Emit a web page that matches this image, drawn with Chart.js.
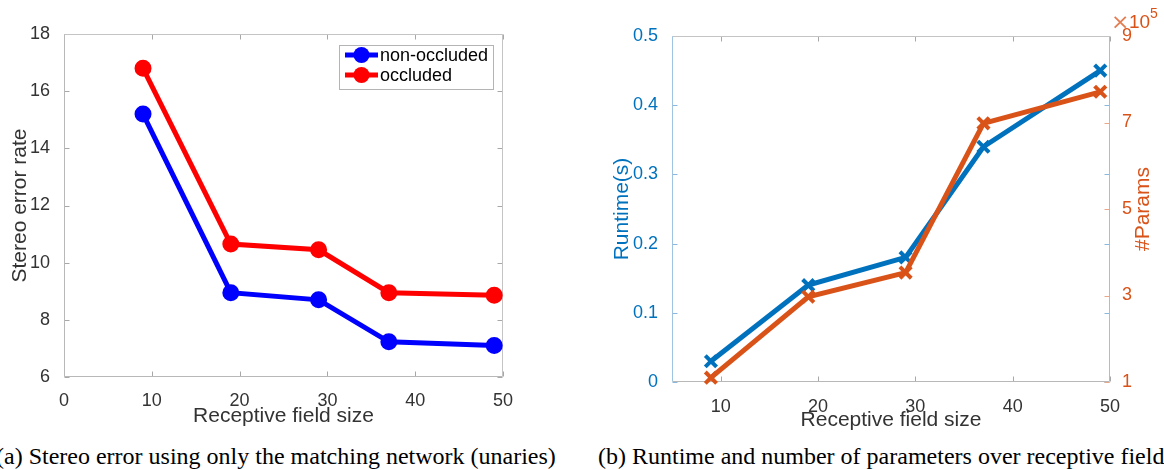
<!DOCTYPE html>
<html>
<head>
<meta charset="utf-8">
<script src="https://cdn.jsdelivr.net/npm/chart.js@4.4.0/dist/chart.umd.min.js"></script>
<style>
body{margin:0;background:#fff;}
#wrap{position:relative;width:1164px;height:470px;overflow:hidden;background:#fff;}
.c{position:absolute;top:0;height:440px;}
.cap{position:absolute;top:444px;font:24px "Liberation Serif","Times New Roman",serif;line-height:24px;white-space:nowrap;color:#000;}
</style>
</head>
<body>
<div id="wrap">
  <div class="c" style="left:0;width:540px"><canvas id="left"></canvas></div>
  <div class="c" style="left:580px;width:584px"><canvas id="right"></canvas></div>
  <div class="cap" style="left:-4px">(a) Stereo error using only the matching network (unaries)</div>
  <div class="cap" style="left:598px">(b) Runtime and number of parameters over receptive field</div>
</div>
<script>
// receptive field sizes (x of both panels)
const fieldSizes = [9, 19, 29, 37, 49];
// (a) stereo error rate
const nonOccluded = [15.2, 8.95, 8.7, 7.23, 7.1];
const occluded = [16.8, 10.65, 10.45, 8.95, 8.86];
// (b) runtime in seconds, parameter count in units of 10^5
const runtime = [0.03, 0.14, 0.18, 0.34, 0.45];
const params = [1.1, 2.97, 3.53, 6.98, 7.71];

// tick labels
const xTicksA = [0, 10, 20, 30, 40, 50];
const yTicksA = [6, 8, 10, 12, 14, 16, 18];
const xTicksB = [10, 20, 30, 40, 50];
const yTicksB = [0, 0.1, 0.2, 0.3, 0.4, 0.5];
const y2TicksB = [1, 3, 5, 7, 9];

const FONT = '"Liberation Sans", Arial, Helvetica, sans-serif';
const TXT = '#333';
const BLUE = '#0072BD', ORANGE = '#D95319';

const pts = ys => fieldSizes.map((x, i) => ({x, y: ys[i]}));
const fixTicks = vals => scale => { scale.ticks = vals.map(v => ({value: v})); };
const tickFont = {family: FONT, size: 18};
const titleFont = {family: FONT, size: 21};

function seg(ctx, x1, y1, x2, y2){
  ctx.beginPath(); ctx.moveTo(x1, y1); ctx.lineTo(x2, y2); ctx.stroke();
}

// matlab style box with inward ticks
const frame = {
  id: 'frame',
  beforeDatasetsDraw(chart, args, o){
    const {ctx, chartArea: a} = chart;
    const L = Math.round(a.left) + .5, R = Math.round(a.right) - .5;
    const T = Math.round(a.top) + .5, B = Math.round(a.bottom) - .5;
    ctx.save();
    ctx.lineWidth = 1;
    (o.ticks || []).forEach(t => {
      const s = chart.scales[t.scale];
      ctx.strokeStyle = t.color;
      s.ticks.forEach(tk => {
        const p = Math.round(s.getPixelForValue(tk.value)) + .5;
        if (s.isHorizontal()) {
          seg(ctx, p, B, p, B - 5);
          seg(ctx, p, T, p, T + 5);
        } else {
          if (t.sides.includes('left')) seg(ctx, L, p, L + 5, p);
          if (t.sides.includes('right')) seg(ctx, R, p, R - 5, p);
        }
      });
    });
    ctx.strokeStyle = o.top; seg(ctx, L, T, R, T);
    ctx.strokeStyle = o.right; seg(ctx, R, T, R, B);
    ctx.strokeStyle = o.bottom; seg(ctx, L, B, R, B);
    ctx.strokeStyle = o.left; seg(ctx, L, T, L, B);
    ctx.restore();
  }
};

// legend in a box at the top right of the plot
const boxLegend = {
  id: 'boxLegend',
  afterDatasetsDraw(chart, args, o){
    if (!o.display) return;
    const {ctx, chartArea: a} = chart;
    const items = chart.data.datasets;
    ctx.save();
    ctx.font = `18px ${FONT}`;
    const tw = Math.max(...items.map(d => ctx.measureText(d.label).width));
    const w = Math.round(6 + 33 + 2 + tw + 5), h = 44;
    const x0 = Math.round(a.right - 10 - w), y0 = Math.round(a.top + 11);
    ctx.fillStyle = '#fff';
    ctx.fillRect(x0, y0, w, h);
    ctx.lineWidth = 1;
    ctx.strokeStyle = '#b4b4b4';
    ctx.strokeRect(x0 + .5, y0 + .5, w, h);
    items.forEach((d, i) => {
      const cy = y0 + 10 + i * 20;
      ctx.strokeStyle = d.borderColor;
      ctx.lineWidth = 5;
      seg(ctx, x0 + 6, cy, x0 + 39, cy);
      ctx.fillStyle = d.borderColor;
      ctx.beginPath(); ctx.arc(x0 + 22.5, cy, 8, 0, Math.PI * 2); ctx.fill();
      ctx.fillStyle = '#000';
      ctx.textAlign = 'left';
      ctx.textBaseline = 'middle';
      ctx.fillText(d.label, x0 + 41, cy + 1);
    });
    ctx.restore();
  }
};

// right axis title reading upwards plus the x10^5 exponent
const rightTitle = {
  id: 'rightTitle',
  afterDraw(chart, args, o){
    if (!o.text) return;
    const {ctx, chartArea: a} = chart;
    ctx.save();
    ctx.fillStyle = o.color;
    ctx.font = `21px ${FONT}`;
    ctx.save();
    ctx.translate(a.right + 33, (a.top + a.bottom) / 2);
    ctx.rotate(-Math.PI / 2);
    ctx.textAlign = 'center';
    ctx.textBaseline = 'middle';
    ctx.fillText(o.text, 0, 0);
    ctx.restore();
    ctx.textAlign = 'left';
    ctx.textBaseline = 'alphabetic';
    ctx.globalAlpha = 0.75;
    ctx.font = `22px "DejaVu Sans", ${FONT}`;
    ctx.fillText('\u00d7', a.right + 1, a.top - 7);
    ctx.globalAlpha = 1;
    ctx.font = `19px ${FONT}`;
    ctx.fillText('10', a.right + 19, a.top - 8);
    ctx.font = `14px ${FONT}`;
    ctx.fillText(o.exp, a.right + 40, a.top - 18);
    ctx.restore();
  }
};

Chart.register(frame, boxLegend, rightTitle);

new Chart('left', {
  type: 'line',
  data: {
    datasets: [
      {label: 'non-occluded', data: pts(nonOccluded), borderColor: '#0000ff', backgroundColor: '#0000ff',
       borderWidth: 5, pointRadius: 7, pointBorderWidth: 3, clip: false},
      {label: 'occluded', data: pts(occluded), borderColor: '#ff0000', backgroundColor: '#ff0000',
       borderWidth: 5, pointRadius: 7, pointBorderWidth: 3, clip: false}
    ]
  },
  options: {
    responsive: true, maintainAspectRatio: false, animation: false,
    layout: {padding: {left: 0, top: 34, right: 37, bottom: 11}},
    plugins: {
      legend: {display: false}, tooltip: {enabled: false},
      boxLegend: {display: true},
      frame: {top: '#c4c4c4', right: '#c4c4c4', bottom: '#b8b8b8', left: '#b8b8b8',
              ticks: [{scale: 'x', color: '#a8a8a8'}, {scale: 'y', color: '#a8a8a8', sides: ['left', 'right']}]}
    },
    scales: {
      x: {
        type: 'linear', min: 0, max: 50,
        afterBuildTicks: fixTicks(xTicksA),
        afterFit: s => { s.height = 52; },
        grid: {display: false}, border: {display: false},
        ticks: {padding: 5, color: TXT, font: tickFont, maxRotation: 0, autoSkip: false},
        title: {display: true, text: 'Receptive field size', color: TXT, font: titleFont, padding: 0}
      },
      y: {
        min: 6, max: 18,
        afterBuildTicks: fixTicks(yTicksA),
        afterFit: s => { s.width = 64; },
        grid: {display: false}, border: {display: false},
        ticks: {padding: 6, color: TXT, font: tickFont, autoSkip: false},
        title: {display: true, text: 'Stereo error rate', color: TXT, font: titleFont, padding: {top: 8, bottom: 0}}
      }
    }
  }
});

new Chart('right', {
  type: 'line',
  data: {
    datasets: [
      {label: 'Runtime(s)', data: pts(runtime), yAxisID: 'y', order: 1,
       borderColor: BLUE, backgroundColor: BLUE, borderWidth: 5,
       pointStyle: 'crossRot', pointRadius: 8, pointBorderWidth: 4, clip: false},
      {label: '#Params', data: pts(params), yAxisID: 'y2', order: 0,
       borderColor: ORANGE, backgroundColor: ORANGE, borderWidth: 5,
       pointStyle: 'crossRot', pointRadius: 8, pointBorderWidth: 4, clip: false}
    ]
  },
  options: {
    responsive: true, maintainAspectRatio: false, animation: false,
    layout: {padding: {left: 0, top: 36, right: 0, bottom: 7}},
    plugins: {
      legend: {display: false}, tooltip: {enabled: false},
      boxLegend: {display: false},
      rightTitle: {text: '#Params', exp: '5', color: ORANGE},
      frame: {top: '#c4c4c4', right: '#cdb4a8', bottom: '#b8b8b8', left: '#9fc4e2',
              ticks: [{scale: 'x', color: '#a8a8a8'},
                      {scale: 'y', color: '#8ab8de', sides: ['left', 'right']},
                      {scale: 'y2', color: '#e8a888', sides: ['right']}]}
    },
    scales: {
      x: {
        type: 'linear', min: 5, max: 50,
        afterBuildTicks: fixTicks(xTicksB),
        afterFit: s => { s.height = 51; },
        grid: {display: false}, border: {display: false},
        ticks: {padding: 6, color: TXT, font: tickFont, maxRotation: 0, autoSkip: false},
        title: {display: true, text: 'Receptive field size', color: TXT, font: titleFont, padding: 0}
      },
      y: {
        position: 'left', min: 0, max: 0.5,
        afterBuildTicks: fixTicks(yTicksB),
        afterFit: s => { s.width = 92; },
        grid: {display: false}, border: {display: false},
        ticks: {padding: 6, color: BLUE, font: tickFont, autoSkip: false},
        title: {display: true, text: 'Runtime(s)', color: BLUE, font: titleFont, padding: {top: 30, bottom: 0}}
      },
      y2: {
        position: 'right', min: 1, max: 9,
        afterBuildTicks: fixTicks(y2TicksB),
        afterFit: s => { s.width = 54; },
        grid: {display: false}, border: {display: false},
        ticks: {padding: 4, color: ORANGE, font: tickFont, autoSkip: false}
      }
    }
  }
});
</script>
</body>
</html>
